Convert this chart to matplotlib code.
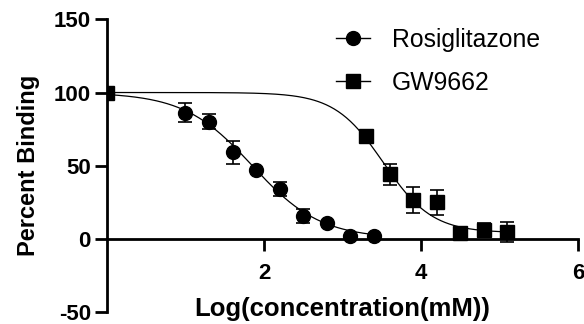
import numpy as np
import matplotlib.pyplot as plt

# Rosiglitazone
rosi_x = [0.0, 1.0, 1.3, 1.6, 1.9, 2.2, 2.5, 2.8, 3.1, 3.4]
rosi_y = [100, 86, 80, 59, 47, 34, 15.5, 10.5, 1.8, 1.8]
rosi_err = [0, 6.5, 5, 8, 0, 5, 5, 0, 0, 0]

# GW9662
gw_x = [0.0, 3.3, 3.6, 3.9, 4.2, 4.5, 4.8, 5.1]
gw_y = [100, 70, 44, 26.5, 25, 3.7, 6, 4.4]
gw_err = [0, 0, 7, 9, 8.5, 0, 5, 7]

# fitted 4PL parameters (top, bottom, logIC50, hill)
rosi_fit = (100, 0, 1.85, 1.0)
gw_fit = (100, 4, 3.52, 1.4)


def four_pl(x, top, bottom, logic50, hill):
    return bottom + (top - bottom) / (1 + 10 ** ((x - logic50) * hill))


plt.rcParams['font.family'] = ['Liberation Sans', 'DejaVu Sans']
plt.rcParams['axes.unicode_minus'] = False
fig = plt.figure(figsize=(5.84, 3.24), dpi=100)
ax = fig.add_axes([0.183, 0.038, 0.807, 0.902])

xr = np.linspace(0, 3.4, 200)
xg = np.linspace(0, 5.1, 200)
ax.plot(xr, four_pl(xr, *rosi_fit), color='black', lw=0.9)
ax.plot(xg, four_pl(xg, *gw_fit), color='black', lw=0.9)

ax.errorbar(rosi_x, rosi_y, yerr=rosi_err, fmt='o', color='black', ms=10,
            capsize=5, elinewidth=1.2, capthick=1.2)
ax.errorbar(gw_x, gw_y, yerr=gw_err, fmt='s', color='black', ms=10,
            capsize=5, elinewidth=1.2, capthick=1.2)

# legend handles: line through marker
h1, = ax.plot([], [], marker='o', color='black', ms=10, lw=1)
h2, = ax.plot([], [], marker='s', color='black', ms=10, lw=1)
ax.legend([h1, h2], ['Rosiglitazone', 'GW9662'], frameon=False, fontsize=17.8,
          loc='upper left', bbox_to_anchor=(0.45, 1.03), handlelength=1.35,
          handletextpad=0.9, labelspacing=0.75, borderpad=0.2)

ax.set_xlim(0, 6)
ax.set_ylim(-50, 150)
ax.set_xticks([2, 4, 6])
ax.set_yticks([-50, 0, 50, 100, 150])
ax.spines['bottom'].set_position(('data', 0))
ax.spines['top'].set_visible(False)
ax.spines['right'].set_visible(False)
ax.spines['left'].set_linewidth(2)
ax.spines['bottom'].set_linewidth(2)
ax.tick_params(width=2, length=8.5, labelsize=16, direction='out')
ax.tick_params(axis='x', pad=9)
ax.tick_params(axis='y', pad=3)
for lab in ax.get_xticklabels() + ax.get_yticklabels():
    lab.set_fontweight('bold')

ax.set_ylabel('Percent Binding', fontsize=17, fontweight='bold', labelpad=10)
ax.set_xlabel('Log(concentration(mM))', fontsize=18.5, fontweight='bold')
ax.xaxis.set_label_coords(0.5, 0.05)

fig.savefig('out.png', dpi=100)
